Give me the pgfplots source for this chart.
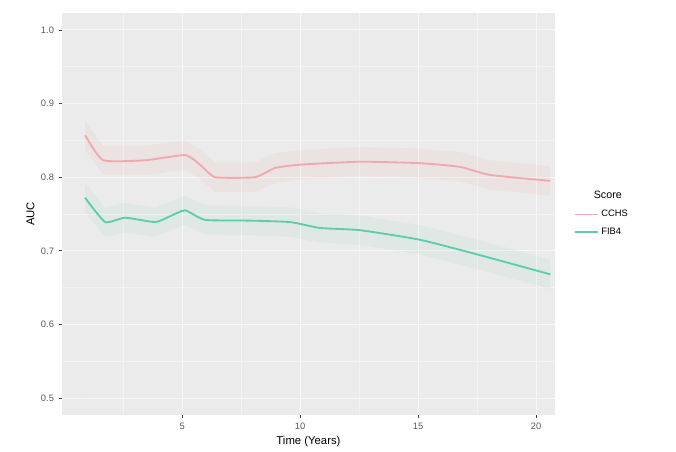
\documentclass[border=0pt]{standalone}
\usepackage{pgfplots}
\pgfplotsset{compat=1.18}
\usepackage{fontspec}
\setmainfont{Liberation Sans}
\definecolor{ggpink}{HTML}{F8766D}
\definecolor{ggteal}{HTML}{00BFC4}
\definecolor{lteal}{HTML}{5CCDAE}
\definecolor{lpink}{HTML}{F2A9AE}
\definecolor{panel}{HTML}{EBEBEB}
\begin{document}
\begin{tikzpicture}[x=1pt,y=1pt]
\begin{axis}[
  at={(0,0)}, anchor=south west,
  scale only axis,
  width=369.75pt, height=301.5pt,
  xmin=-0.09, xmax=20.8,
  ymin=0.477, ymax=1.023,
  axis background/.style={fill=panel},
  axis line style={draw=none},
  xtick={5,10,15,20},
  ytick={0.5,0.6,0.7,0.8,0.9,1.0},
  minor xtick={2.5,7.5,12.5,17.5},
  minor ytick={0.55,0.65,0.75,0.85,0.95},
  xtick pos=bottom, ytick pos=left,
  yticklabel style={/pgf/number format/.cd,fixed,fixed zerofill,precision=1},
  /pgf/number format/assume math mode=true,
  grid=both,
  major grid style={white!60!panel,line width=0.8pt},
  minor grid style={white!40!panel,line width=0.4pt},
  tick align=outside,
  major tick length=2.5pt,
  minor tick length=0pt,
  tick style={black!75,line width=0.5pt},
  ticklabel style={font=\fontsize{7}{8}\selectfont,text=black!65},
  xlabel={Time (Years)},
  ylabel={AUC},
  label style={font=\fontsize{8.5}{10}\selectfont},
  xlabel style={yshift=2pt},
  ylabel style={yshift=-2pt},
  legend style={at={(1.03,0.5)},anchor=west,draw=none,fill=none,
    font=\fontsize{7}{8}\selectfont,row sep=3pt},
  legend cell align=left,
  every axis plot/.append style={line width=1.4pt},
]
\addlegendimage{empty legend}
\addlegendentry{\hspace{-0.8em}\fontsize{8}{9}\selectfont Score}
% confidence ribbons (faint)
\addplot[draw=none,fill=ggpink,fill opacity=0.07,forget plot] coordinates {
(0.89,0.877)(1.65,0.843)(3.43,0.843)(5.13,0.850)(5.76,0.837)(6.4,0.820)(8.09,0.820)(8.94,0.8325)(10,0.837)(12.54,0.841)(15.08,0.839)(16.78,0.834)(18.05,0.823)(20.6,0.815)
(20.6,0.775)(18.05,0.783)(16.78,0.794)(15.08,0.799)(12.54,0.801)(10,0.797)(8.94,0.7925)(8.09,0.780)(6.4,0.780)(5.76,0.797)(5.13,0.810)(3.43,0.803)(1.65,0.803)(0.89,0.837)
} \closedcycle;
\addplot[draw=none,fill=lteal,fill opacity=0.07,forget plot] coordinates {
(0.89,0.792)(1.74,0.759)(2.58,0.765)(3.86,0.759)(4.49,0.767)(5.13,0.775)(5.97,0.762)(7.88,0.761)(9.58,0.759)(10.85,0.751)(12.54,0.748)(15.08,0.735)(17.63,0.714)(20.6,0.688)
(20.6,0.648)(17.63,0.674)(15.08,0.695)(12.54,0.708)(10.85,0.711)(9.58,0.719)(7.88,0.721)(5.97,0.722)(5.13,0.735)(4.49,0.727)(3.86,0.719)(2.58,0.725)(1.74,0.719)(0.89,0.752)
} \closedcycle;
\addplot[lpink,smooth,tension=0.3] coordinates {
(0.89,0.857)(1.65,0.823)(3.43,0.823)(5.13,0.830)(5.76,0.817)(6.4,0.800)(8.09,0.800)(8.94,0.8125)(10,0.817)(12.54,0.821)(15.08,0.819)(16.78,0.814)(18.05,0.803)(20.6,0.795)
};
\addlegendentry{CCHS}
\addplot[lteal,smooth,tension=0.3] coordinates {
(0.89,0.772)(1.74,0.739)(2.58,0.745)(3.86,0.739)(4.49,0.747)(5.13,0.755)(5.97,0.742)(7.88,0.741)(9.58,0.739)(10.85,0.731)(12.54,0.728)(15.08,0.715)(17.63,0.694)(20.6,0.668)
};
\addlegendentry{FIB4}
\end{axis}
\path[use as bounding box] (-46.5pt,-27.75pt) rectangle (460.5pt,311.25pt);
\end{tikzpicture}
\end{document}
